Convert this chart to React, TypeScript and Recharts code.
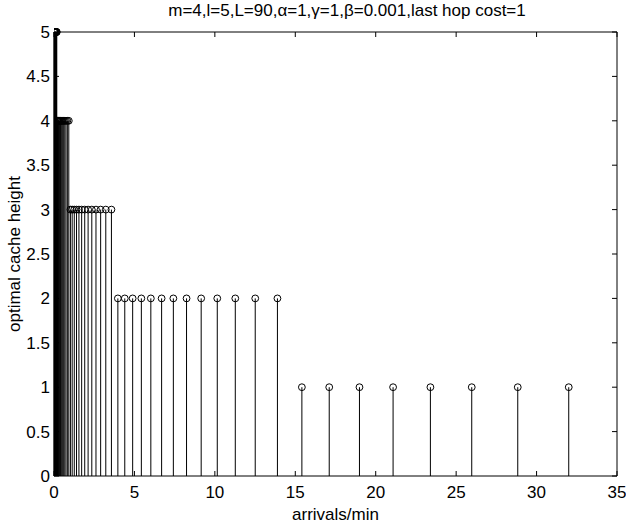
import React from "react";
import { ComposedChart, ErrorBar, Scatter, XAxis, YAxis } from "recharts";

// arrival rates (arrivals/min) of each stem
const arrivals = [
  0.021, 0.024, 0.026, 0.029, 0.033, 0.036, 0.04, 0.044, 0.049, 0.055, 0.061, 0.068, 0.075, 0.083, 0.092,
  0.103, 0.114, 0.126, 0.14, 0.156, 0.173,
  0.192, 0.213, 0.237, 0.263, 0.292, 0.324, 0.359, 0.399, 0.443, 0.491, 0.545, 0.605, 0.672, 0.746, 0.83, 0.92,
  1.02, 1.13, 1.26, 1.4, 1.55, 1.72, 1.91, 2.12, 2.35, 2.61, 2.9, 3.22, 3.57,
  3.97, 4.4, 4.89, 5.43, 6.02, 6.69, 7.42, 8.24, 9.15, 10.15, 11.27, 12.51, 13.89,
  15.41, 17.11, 18.99, 21.08, 23.4, 25.97, 28.83, 32.0,
];

// optimal cache height for each arrival rate
const heights = [
  5, 5, 5, 5, 5, 5, 5, 5, 5, 5, 5, 5, 5, 5, 5, 5, 5, 5, 5, 5, 5,
  4, 4, 4, 4, 4, 4, 4, 4, 4, 4, 4, 4, 4, 4, 4, 4,
  3, 3, 3, 3, 3, 3, 3, 3, 3, 3, 3, 3, 3,
  2, 2, 2, 2, 2, 2, 2, 2, 2, 2, 2, 2, 2,
  1, 1, 1, 1, 1, 1, 1, 1,
];

const xTicks = [0, 5, 10, 15, 20, 25, 30, 35];
const yTicks = [0, 0.5, 1, 1.5, 2, 2.5, 3, 3.5, 4, 4.5, 5];

const FONT = "'Liberation Sans', Arial, Helvetica, sans-serif";

const data = arrivals.map((x, i) => ({ x, y: heights[i], stem: [heights[i], 0] }));

const StemHead = (props: any) => {
  const { cx, cy } = props;
  if (cx == null || cy == null) return null;
  return <circle cx={cx} cy={cy} r={3.4} fill="none" stroke="#000" strokeWidth={1} />;
};

const tickStyle = { fontSize: 17, fill: "#000", fontFamily: FONT };
const labelStyle = { fontSize: 17, fill: "#000", fontFamily: FONT };

export default function App() {
  return (
    <div style={{ position: "absolute", left: 0, top: 0, width: 626, height: 523, background: "#fff" }}>
      <div
        style={{
          position: "absolute",
          left: 0,
          top: 1,
          width: 694,
          textAlign: "center",
          fontFamily: FONT,
          fontSize: 17,
          color: "#000",
        }}
      >
        m=4,l=5,L=90,α=1,γ=1,β=0.001,last hop cost=1
      </div>
      <ComposedChart width={626} height={523} data={data} margin={{ top: 31, right: 8, bottom: 0, left: 0 }}>
        <XAxis
          dataKey="x"
          type="number"
          domain={[0, 35]}
          ticks={xTicks}
          allowDataOverflow
          height={47}
          tickSize={-5}
          tickMargin={15}
          tick={tickStyle}
          axisLine={{ stroke: "#000" }}
          tickLine={{ stroke: "#000" }}
          label={{ value: "arrivals/min", position: "insideBottom", offset: 3, style: labelStyle }}
        />
        <XAxis
          xAxisId="top"
          dataKey="x"
          orientation="top"
          type="number"
          domain={[0, 35]}
          ticks={xTicks}
          allowDataOverflow
          height={1}
          tickSize={-5}
          tickFormatter={() => ""}
          axisLine={{ stroke: "#000" }}
          tickLine={{ stroke: "#000" }}
        />
        <YAxis
          dataKey="y"
          type="number"
          domain={[0, 5]}
          ticks={yTicks}
          width={54}
          tickSize={-5}
          tickMargin={9}
          tick={tickStyle}
          axisLine={{ stroke: "#000" }}
          tickLine={{ stroke: "#000" }}
          label={{ value: "optimal cache height", angle: -90, position: "center", dx: -13, style: labelStyle }}
        />
        <YAxis
          yAxisId="right"
          dataKey="y"
          orientation="right"
          type="number"
          domain={[0, 5]}
          ticks={yTicks}
          width={1}
          tickSize={-5}
          tickFormatter={() => ""}
          axisLine={{ stroke: "#000" }}
          tickLine={{ stroke: "#000" }}
        />
        {/* invisible series so the top and right box axes get drawn */}
        <Scatter xAxisId="top" yAxisId="right" dataKey="y" shape={() => <g />} isAnimationActive={false} legendType="none" />
        <Scatter dataKey="y" shape={<StemHead />} isAnimationActive={false}>
          <ErrorBar dataKey="stem" direction="y" width={0} stroke="#000" strokeWidth={1} isAnimationActive={false} />
        </Scatter>
      </ComposedChart>
    </div>
  );
}
